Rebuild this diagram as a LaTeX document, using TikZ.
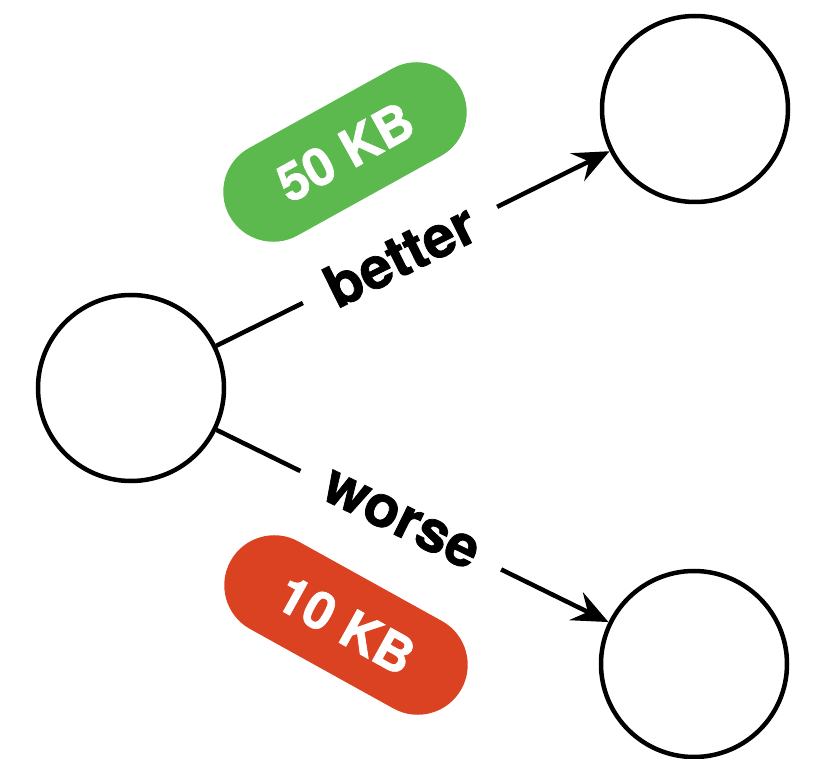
\documentclass[tikz,border=0pt]{standalone}
\usepackage{fontspec}
\setmainfont{TeX Gyre Heros}[BoldFeatures={FakeBold=1.3}]
\usetikzlibrary{arrows.meta}
\definecolor{pillgreen}{HTML}{5CB94E}
\definecolor{pillred}{HTML}{DA4222}
\begin{document}
\begin{tikzpicture}[x=1pt,y=-1pt,
  state/.style={circle, draw=black, line width=4.5pt, minimum size=186pt, inner sep=0pt},
  conn/.style={line width=4.5pt, -{Stealth[length=36pt,width=31pt,inset=13pt]}},
  lbl/.style={font=\fontsize{58}{58}\selectfont\bfseries, fill=white, inner xsep=28pt, inner ysep=0pt, sloped},
  pill/.style={rectangle, rounded corners=50pt, minimum width=264pt, minimum height=100pt, inner sep=0pt, text=white, font=\fontsize{52}{52}\selectfont\bfseries}]
\useasboundingbox (0,0) rectangle (815,759);
\node[state] (src) at (131,388) {};
\node[state] (top) at (695,109) {};
\node[state] (bot) at (694,664) {};
\draw[conn] (src) -- node[lbl, pos=0.467] {better} (top);
\draw[conn] (src) -- node[lbl, pos=0.47] {worse} (bot);
\node[pill, fill=pillgreen, rotate=29] (g) at (345,152) {50 KB};
\node[pill, fill=pillred, rotate=-29] (r) at (346,625) {10 KB};
\end{tikzpicture}
\end{document}
